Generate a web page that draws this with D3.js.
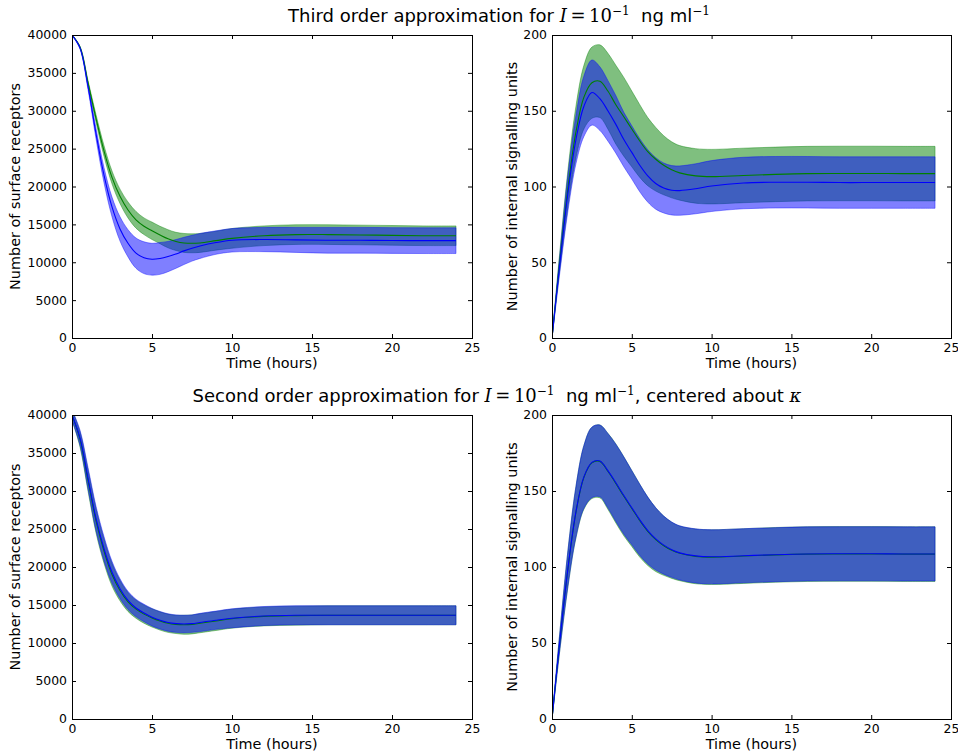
<!DOCTYPE html>
<html>
<head>
<meta charset="utf-8">
<script src="https://cdn.jsdelivr.net/npm/d3@7"></script>
<style>
  body { margin: 0; background: #fff; }
  text { font-family: "DejaVu Sans", sans-serif; fill: #000; }
</style>
</head>
<body>
<script>
// time points (hours) shared by every series
const hours = [0, 0.5, 1, 1.5, 2, 2.5, 3, 3.5, 4, 4.5, 5, 5.5, 6, 6.5, 7, 7.5, 8, 9, 10, 12, 14, 16, 18, 20, 22, 24];

// third order, surface receptors
const tlGreenMean = [40000, 38400, 33700, 29000, 24700, 21200, 18700, 16900, 15600, 14750, 14150, 13600, 13100, 12750, 12550, 12500, 12550, 12850, 13150, 13500, 13650, 13650, 13600, 13550, 13500, 13500];
const tlGreenSd = [0, 100, 300, 500, 700, 850, 950, 1050, 1100, 1100, 1150, 1150, 1200, 1200, 1250, 1250, 1250, 1250, 1300, 1300, 1300, 1300, 1300, 1300, 1300, 1300];
const tlBlueMean = [40000, 38300, 33200, 27000, 21500, 17300, 14400, 12500, 11200, 10600, 10400, 10500, 10750, 11100, 11500, 11850, 12150, 12600, 12900, 13000, 12950, 12900, 12900, 12870, 12850, 12850];
const tlBlueSd = [0, 150, 400, 700, 1000, 1300, 1600, 1800, 2000, 2100, 2100, 2100, 2000, 1900, 1800, 1700, 1650, 1550, 1550, 1600, 1650, 1700, 1700, 1700, 1700, 1700];

// third order, internal signalling units
const trGreenMean = [0, 52, 99, 136, 159, 168.5, 169.5, 163, 154, 146, 138, 130, 123, 118, 114, 111, 109, 107, 106.5, 107.3, 108, 108.5, 108.6, 108.6, 108.5, 108.5];
const trGreenSd = [0, 6, 12, 17, 21, 23.5, 24, 25, 26, 26, 25, 24, 22.5, 21, 19.5, 18.5, 18, 18, 18, 18, 18, 18, 18, 18, 18, 18];
const trBlueMean = [0, 50, 96, 131, 153, 162, 158, 150, 141, 131, 122.5, 114, 107, 102, 99, 97.5, 97.3, 98.5, 100.3, 102.3, 102.8, 102.8, 102.6, 102.6, 102.6, 102.6];
const trBlueSd = [0, 6, 12, 16, 20, 21.5, 21, 20, 19, 18, 17.6, 17.5, 17.3, 17, 16.5, 16.3, 16.3, 16.5, 16.8, 17, 17, 17, 17, 17, 17, 17];

// second order, surface receptors
const blGreenMean = [40000, 36800, 31400, 26100, 22100, 19000, 16900, 15400, 14450, 13800, 13300, 12900, 12600, 12450, 12400, 12450, 12600, 12900, 13200, 13500, 13600, 13650, 13650, 13650, 13650, 13650];
const blGreenSd = [700, 1000, 1400, 1600, 1600, 1500, 1350, 1250, 1200, 1200, 1200, 1200, 1200, 1200, 1250, 1250, 1250, 1250, 1250, 1250, 1250, 1250, 1250, 1250, 1250, 1250];
const blBlueMean = [40000, 37000, 31700, 26400, 22400, 19300, 17150, 15600, 14600, 13950, 13400, 13000, 12700, 12550, 12500, 12550, 12700, 13000, 13250, 13550, 13650, 13650, 13650, 13650, 13650, 13650];
const blBlueSd = [700, 1000, 1400, 1600, 1600, 1450, 1300, 1200, 1150, 1150, 1150, 1150, 1150, 1150, 1150, 1150, 1200, 1200, 1250, 1250, 1250, 1250, 1250, 1250, 1250, 1250];

// second order, internal signalling units
const brGreenMean = [0, 52, 99, 136, 159, 168.5, 169.5, 163, 155, 146.5, 138.5, 130.5, 123.5, 118, 114, 111, 109, 107, 106.5, 107.2, 108, 108.5, 108.6, 108.6, 108.5, 108.5];
const brGreenSd = [0, 6, 12, 17, 21, 23.5, 24, 25, 26, 26, 25, 24, 22.5, 21, 19.5, 18.5, 18, 18, 18, 18, 18, 18, 18, 18, 18, 18];
const brBlueMean = [0, 52.2, 99.3, 136.3, 159.3, 168.8, 169.8, 163.4, 155.4, 147, 139, 131, 124, 118.5, 114.4, 111.4, 109.3, 107.3, 106.7, 107.4, 108.1, 108.6, 108.7, 108.7, 108.6, 108.6];
const brBlueSd = [0, 5.8, 11.7, 16.7, 20.7, 23.2, 23.6, 24.5, 25.4, 25.4, 24.4, 23.4, 22, 20.5, 19.1, 18.2, 17.8, 17.8, 17.8, 17.8, 17.8, 17.8, 17.8, 17.8, 17.8, 17.8];

const xTicks = [0, 5, 10, 15, 20, 25];
const receptorTicks = [0, 5000, 10000, 15000, 20000, 25000, 30000, 35000, 40000];
const signalTicks = [0, 50, 100, 150, 200];

const GREEN = "rgb(0,128,0)";
const BLUE = "rgb(0,0,255)";

const svg = d3.select("body").append("svg")
  .attr("width", 958)
  .attr("height", 756);

let clipId = 0;

function drawPanel(p) {
  const g = svg.append("g").attr("transform", `translate(${p.left},${p.top})`);

  const x = d3.scaleLinear().domain([0, 25]).range([0, p.width]);
  const y = d3.scaleLinear().domain([0, d3.max(p.yTicks)]).range([p.height, 0]);

  const id = "clip" + (clipId++);
  g.append("clipPath").attr("id", id)
    .append("rect").attr("width", p.width).attr("height", p.height);

  const plot = g.append("g").attr("clip-path", `url(#${id})`);

  const rows = s => hours.map((t, i) => ({ t, m: s.mean[i], sd: s.sd[i] }));

  const area = d3.area()
    .x(d => x(d.t))
    .y0(d => y(d.m - d.sd))
    .y1(d => y(d.m + d.sd))
    .curve(d3.curveCatmullRom.alpha(0.5));

  const line = d3.line()
    .x(d => x(d.t))
    .y(d => y(d.m))
    .curve(d3.curveCatmullRom.alpha(0.5));

  p.series.forEach(s => {
    plot.append("path")
      .attr("d", area(rows(s)))
      .attr("fill", s.color)
      .attr("fill-opacity", 0.5)
      .attr("stroke", s.color)
      .attr("stroke-opacity", 0.5)
      .attr("stroke-width", 0.8);
  });

  p.series.forEach(s => {
    plot.append("path")
      .attr("d", line(rows(s)))
      .attr("fill", "none")
      .attr("stroke", s.color)
      .attr("stroke-width", 1.1);
  });

  // inward ticks on all four sides, like matplotlib classic
  const bottom = g.append("g")
    .attr("transform", `translate(0,${p.height})`)
    .call(d3.axisBottom(x).tickValues(xTicks).tickSizeInner(-4).tickSizeOuter(0).tickPadding(5));
  const left = g.append("g")
    .call(d3.axisLeft(y).tickValues(p.yTicks).tickFormat(d3.format("d")).tickSizeInner(-4).tickSizeOuter(0).tickPadding(5));
  g.append("g")
    .call(d3.axisTop(x).tickValues(xTicks).tickSizeInner(-4).tickSizeOuter(0).tickFormat(""));
  g.append("g")
    .attr("transform", `translate(${p.width},0)`)
    .call(d3.axisRight(y).tickValues(p.yTicks).tickSizeInner(-4).tickSizeOuter(0).tickFormat(""));

  g.selectAll(".domain").remove();
  g.selectAll(".tick line").attr("stroke", "#000");
  [bottom, left].forEach(a => a.selectAll("text")
    .attr("fill", "#000")
    .style("font-family", "DejaVu Sans")
    .style("font-size", "12.4px"));

  g.append("rect")
    .attr("x", 0.5).attr("y", 0.5)
    .attr("width", p.width).attr("height", p.height)
    .attr("fill", "none")
    .attr("stroke", "#000")
    .attr("stroke-width", 1);

  g.append("text")
    .attr("x", p.width / 2)
    .attr("y", p.height + 30)
    .attr("text-anchor", "middle")
    .style("font-size", "14.4px")
    .text("Time (hours)");

  svg.append("text")
    .attr("transform", `translate(${p.labelX},${p.top + p.height / 2}) rotate(-90)`)
    .attr("text-anchor", "middle")
    .style("font-size", "14.4px")
    .text(p.yLabel);
}

drawPanel({
  left: 72, top: 35, width: 400, height: 303, labelX: 20,
  yTicks: receptorTicks, yLabel: "Number of surface receptors",
  series: [
    { mean: tlGreenMean, sd: tlGreenSd, color: GREEN },
    { mean: tlBlueMean, sd: tlBlueSd, color: BLUE }
  ]
});

drawPanel({
  left: 552, top: 35, width: 399, height: 303, labelX: 517,
  yTicks: signalTicks, yLabel: "Number of internal signalling units",
  series: [
    { mean: trGreenMean, sd: trGreenSd, color: GREEN },
    { mean: trBlueMean, sd: trBlueSd, color: BLUE }
  ]
});

drawPanel({
  left: 72, top: 415, width: 400, height: 304, labelX: 20,
  yTicks: receptorTicks, yLabel: "Number of surface receptors",
  series: [
    { mean: blGreenMean, sd: blGreenSd, color: GREEN },
    { mean: blBlueMean, sd: blBlueSd, color: BLUE }
  ]
});

drawPanel({
  left: 552, top: 415, width: 399, height: 304, labelX: 517,
  yTicks: signalTicks, yLabel: "Number of internal signalling units",
  series: [
    { mean: brGreenMean, sd: brGreenSd, color: GREEN },
    { mean: brBlueMean, sd: brBlueSd, color: BLUE }
  ]
});

// titles with the little bits of math
function title(xc, yb, before, after) {
  const t = svg.append("text")
    .attr("x", xc).attr("y", yb)
    .attr("text-anchor", "middle")
    .style("font-size", "18px")
    .style("white-space", "pre");
  t.append("tspan").text(before);
  t.append("tspan").style("font-family", "DejaVu Serif").style("font-style", "italic").text("I");
  t.append("tspan").style("font-family", "DejaVu Serif").text("\u2009=\u200910");
  t.append("tspan").style("font-family", "DejaVu Serif").style("font-size", "12px").attr("dy", -7).text("\u22121");
  t.append("tspan").attr("dy", 7).text("  ng ml");
  t.append("tspan").style("font-family", "DejaVu Serif").style("font-size", "12px").attr("dy", -7).text("\u22121");
  if (after) {
    t.append("tspan").attr("dy", 7).text(after);
    t.append("tspan").style("font-family", "DejaVu Serif").style("font-style", "italic").text("\u03ba");
  }
}

title(499, 22, "Third order approximation for ", null);
title(497, 402, "Second order approximation for ", ", centered about ");
</script>
</body>
</html>
